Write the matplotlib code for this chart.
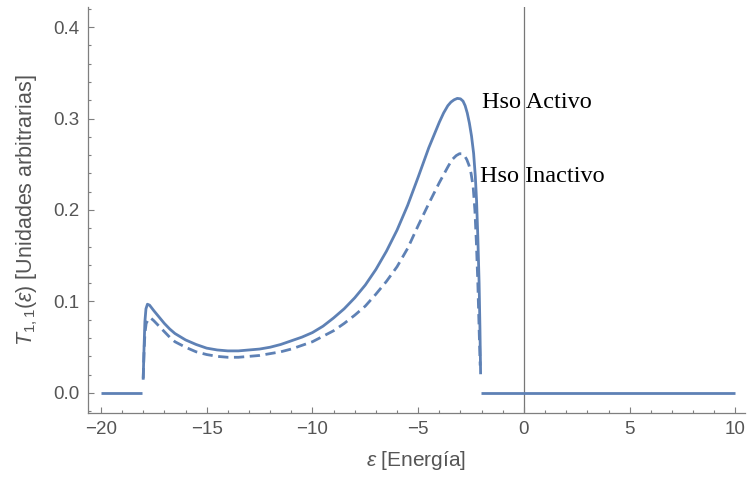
import matplotlib
matplotlib.use("Agg")
import matplotlib.pyplot as plt
from matplotlib.ticker import MultipleLocator

plt.rcParams['font.family'] = ['Liberation Sans', 'DejaVu Sans']
plt.rcParams['mathtext.fontset'] = 'custom'
plt.rcParams['mathtext.rm'] = 'Liberation Sans'
plt.rcParams['mathtext.it'] = 'Liberation Sans:italic'

# zero segments
zero_left_x = [-20.0, -18.05]
zero_right_x = [-2.05, 10.0]

# Hso Activo (solid)
activo_x = [-18.0, -17.96, -17.92, -17.87, -17.8, -17.7, -17.5, -17.25, -17.0, -16.75,
            -16.5, -16.0, -15.5, -15.0, -14.5, -14.0, -13.5, -13.0, -12.5, -12.0,
            -11.5, -11.0, -10.5, -10.0, -9.5, -9.0, -8.5, -8.0, -7.5, -7.0,
            -6.5, -6.0, -5.5, -5.0, -4.5, -4.0, -3.8, -3.6, -3.45, -3.3,
            -3.15, -3.0, -2.88, -2.78, -2.68, -2.58, -2.48, -2.38, -2.3, -2.24,
            -2.18, -2.12, -2.08, -2.05]
activo_y = [0.016, 0.050, 0.078, 0.092, 0.097, 0.096, 0.090, 0.083, 0.076, 0.070,
            0.065, 0.058, 0.053, 0.049, 0.047, 0.046, 0.046, 0.047, 0.048, 0.050,
            0.053, 0.057, 0.061, 0.066, 0.073, 0.082, 0.092, 0.104, 0.118, 0.135,
            0.155, 0.178, 0.205, 0.236, 0.268, 0.296, 0.306, 0.314, 0.318, 0.3205,
            0.322, 0.3215, 0.319, 0.314, 0.306, 0.295, 0.281, 0.262, 0.237, 0.210,
            0.170, 0.120, 0.070, 0.022]

# Hso Inactivo (dashed)
inactivo_x = [-18.0, -17.96, -17.92, -17.86, -17.75, -17.65, -17.5, -17.25, -17.0, -16.75,
              -16.5, -16.0, -15.5, -15.0, -14.5, -14.0, -13.5, -13.0, -12.5, -12.0,
              -11.5, -11.0, -10.5, -10.0, -9.5, -9.0, -8.5, -8.0, -7.5, -7.0,
              -6.5, -6.0, -5.5, -5.0, -4.5, -4.0, -3.6, -3.4, -3.2, -3.05,
              -2.92, -2.8, -2.7, -2.6, -2.5, -2.4, -2.32, -2.25, -2.18, -2.12, -2.07]
inactivo_y = [0.016, 0.045, 0.065, 0.076, 0.081, 0.082, 0.079, 0.073, 0.067, 0.061,
              0.056, 0.050, 0.045, 0.042, 0.040, 0.039, 0.039, 0.040, 0.041, 0.043,
              0.045, 0.048, 0.052, 0.056, 0.062, 0.068, 0.076, 0.085, 0.095, 0.108,
              0.122, 0.138, 0.158, 0.183, 0.207, 0.230, 0.247, 0.255, 0.2595, 0.2615,
              0.2615, 0.259, 0.255, 0.249, 0.240, 0.225, 0.200, 0.165, 0.120, 0.070, 0.030]

labels = ["Hso Activo", "Hso Inactivo"]

color = '#5E81B5'
gray = '#7f7f7f'
tickgray = '#555555'

fig = plt.figure(figsize=(7.49, 4.84), dpi=100)
ax = fig.add_axes([88/749, 1 - 413/484, (745 - 88)/749, (413 - 7)/484])

ax.axvline(0, color='#777777', lw=0.9, zorder=1)

ax.plot(zero_left_x, [0, 0], color=color, lw=2.0, solid_capstyle='butt', zorder=3)
ax.plot(zero_right_x, [0, 0], color=color, lw=2.0, solid_capstyle='butt', zorder=3)
ax.plot(activo_x, activo_y, color=color, lw=2.0, zorder=3)
ax.plot(inactivo_x, inactivo_y, color=color, lw=2.0, ls=(0, (3.7, 2.0)), zorder=3)

ax.text(-2.0, 0.311, labels[0], family='Liberation Serif', fontsize=17.5,
        color='black', va='baseline', ha='left')
ax.text(-2.08, 0.231, labels[1], family='Liberation Serif', fontsize=17.5,
        color='black', va='baseline', ha='left')

ax.set_xlim(-20.61, 10.45)
ax.set_ylim(-0.0219, 0.4219)

ax.xaxis.set_major_locator(MultipleLocator(5))
ax.xaxis.set_minor_locator(MultipleLocator(1))
ax.yaxis.set_major_locator(MultipleLocator(0.1))
ax.yaxis.set_minor_locator(MultipleLocator(0.02))
ax.set_xticks([-20, -15, -10, -5, 0, 5, 10])
ax.set_xticklabels(['\u221220', '\u221215', '\u221210', '\u22125', '0', '5', '10'])
ax.set_yticks([0.0, 0.1, 0.2, 0.3, 0.4])
ax.set_yticklabels(['0.0', '0.1', '0.2', '0.3', '0.4'])

ax.tick_params(which='both', direction='in', color=gray, width=0.8,
               labelcolor=tickgray, labelsize=13.5)
ax.tick_params(which='major', length=4.5, pad=6)
ax.tick_params(which='minor', length=2.5)
ax.tick_params(top=False, right=False)

for s in ['top', 'right']:
    ax.spines[s].set_visible(False)
for s in ['left', 'bottom']:
    ax.spines[s].set_color(gray)
    ax.spines[s].set_linewidth(0.9)

ax.set_xlabel(r'$\varepsilon$ [Energía]', fontsize=15, color=tickgray, labelpad=8)
ax.set_ylabel(r'$T_{1,1}(\varepsilon)$ [Unidades arbitrarias]', fontsize=15.5,
              color=tickgray, labelpad=10)

fig.savefig('out.png', dpi=100)
